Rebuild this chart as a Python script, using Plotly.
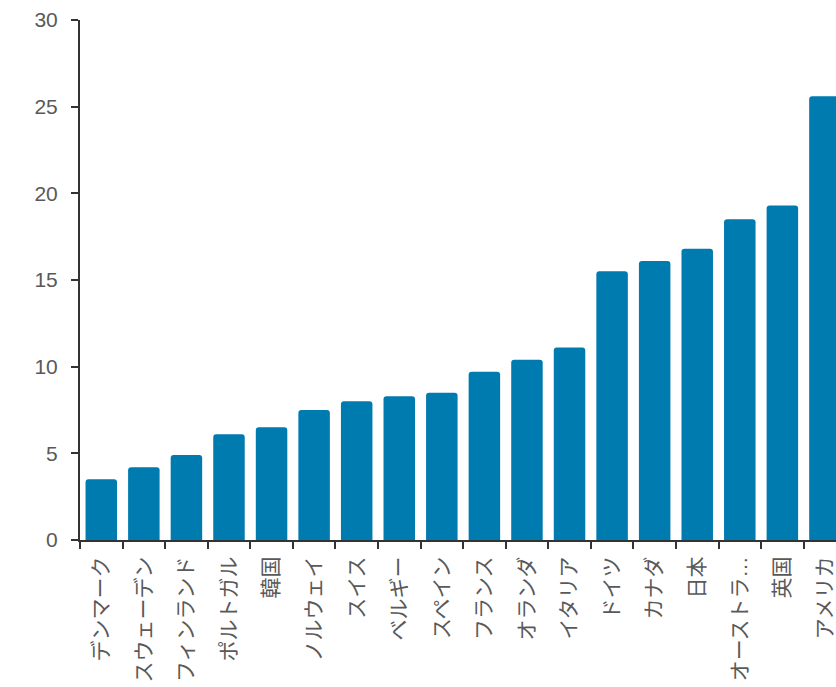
import plotly.graph_objects as go

countries = [
    "デンマーク", "スウェーデン", "フィンランド", "ポルトガル", "韓国", "ノルウェイ",
    "スイス", "ベルギー", "スペイン", "フランス", "オランダ", "イタリア",
    "ドイツ", "カナダ", "日本", "オーストラ…", "英国", "アメリカ",
]
values = [3.5, 4.2, 4.9, 6.1, 6.5, 7.5, 8.0, 8.3, 8.5, 9.7, 10.4, 11.1,
          15.5, 16.1, 16.8, 18.5, 19.3, 25.6]
y_ticks = [0, 5, 10, 15, 20, 25, 30]

BAR = "#007BB0"
TXT = "#595959"
AX = "#333333"
FONT = "Liberation Sans, Arial, Noto Sans CJK JP, sans-serif"

fig = go.Figure(
    go.Bar(
        x=countries,
        y=values,
        marker=dict(color=BAR, line=dict(width=0)),
        width=0.74,
    )
)

fig.update_layout(
    width=836,
    height=687,
    margin=dict(l=80, r=0, t=20, b=147),
    paper_bgcolor="white",
    plot_bgcolor="white",
    showlegend=False,
    barcornerradius=3,
    font=dict(family=FONT, size=21, color=TXT),
)

fig.update_xaxes(
    type="category",
    categoryorder="array",
    categoryarray=countries,
    tickangle=-90,
    range=[-0.5, 17.26],
    showline=True,
    linecolor=AX,
    linewidth=2,
    ticks="outside",
    tickson="boundaries",
    ticklen=7,
    tickwidth=2,
    tickcolor=AX,
    showgrid=False,
    zeroline=False,
    ticklabelstandoff=6,
    ticklabeloverflow="allow",
    tickfont=dict(family=FONT, size=21, color=TXT),
)

fig.update_yaxes(
    range=[0, 30],
    tickvals=y_ticks,
    showline=True,
    linecolor=AX,
    linewidth=2,
    ticks="outside",
    ticklen=7,
    tickwidth=2,
    tickcolor=AX,
    showgrid=False,
    zeroline=False,
    ticklabelstandoff=9,
    tickfont=dict(family=FONT, size=21, color=TXT),
)

fig.write_html("out.html")
